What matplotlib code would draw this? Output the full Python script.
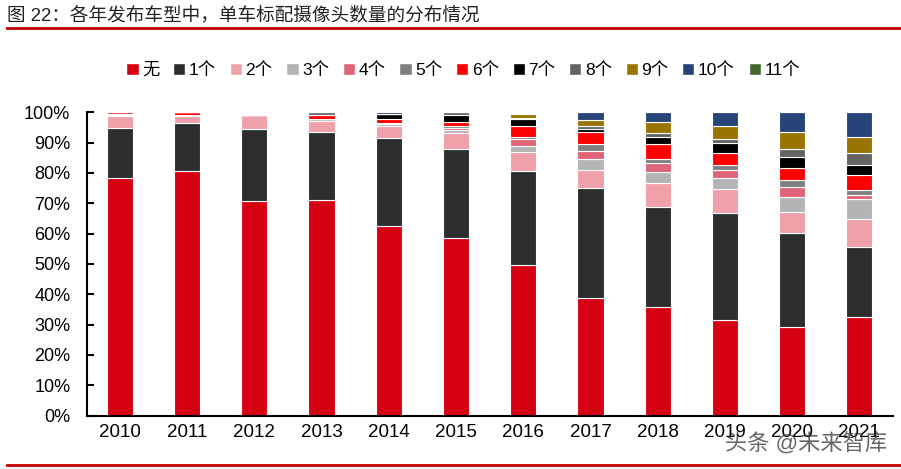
import numpy as np
import matplotlib.pyplot as plt
from matplotlib.patches import Patch

plt.rcParams['font.family'] = ['Liberation Sans', 'Noto Sans CJK SC', 'DejaVu Sans']

# 数据 (%)
years = ['2010', '2011', '2012', '2013', '2014', '2015',
         '2016', '2017', '2018', '2019', '2020', '2021']
labels = ['无', '1个', '2个', '3个', '4个', '5个', '6个', '7个', '8个', '9个', '10个', '11个']

s0 = [78.3, 80.5, 70.8, 71.0, 62.6, 58.7, 49.7, 38.7, 35.7, 31.5, 29.3, 32.4]
s1 = [16.5, 15.9, 23.7, 22.5, 28.9, 29.2, 31.0, 36.3, 33.2, 35.3, 30.8, 23.2]
s2 = [4.1, 2.5, 4.5, 3.8, 4.1, 5.2, 6.2, 5.9, 7.7, 7.8, 7.1, 9.2]
s3 = [0.3, 0.3, 0.0, 0.4, 0.7, 1.0, 2.0, 3.8, 3.6, 3.9, 5.0, 6.6]
s4 = [0.3, 0.0, 0.0, 0.0, 0.3, 0.8, 2.3, 2.6, 3.2, 2.4, 3.1, 1.3]
s5 = [0.0, 0.0, 0.0, 0.0, 0.0, 0.7, 0.8, 2.2, 1.3, 1.7, 2.3, 1.7]
s6 = [0.5, 0.8, 0.0, 1.5, 1.3, 1.3, 3.4, 4.0, 4.8, 4.0, 4.1, 4.9]
s7 = [0.0, 0.0, 0.0, 0.0, 1.5, 2.2, 2.5, 1.0, 2.3, 3.2, 3.5, 3.3]
s8 = [0.0, 0.0, 0.0, 0.8, 0.0, 0.9, 0.3, 1.1, 1.5, 1.3, 2.6, 4.0]
s9 = [0.0, 0.0, 0.0, 0.0, 0.0, 0.0, 1.2, 1.9, 3.4, 4.4, 5.7, 5.3]
s10 = [0.0, 0.0, 0.0, 0.0, 0.6, 0.0, 0.5, 2.5, 3.3, 4.5, 6.5, 8.1]
s11 = [0.0] * 12

series = [s0, s1, s2, s3, s4, s5, s6, s7, s8, s9, s10, s11]
colors = ['#d50012', '#2d2d2d', '#efa0aa', '#b4b4b4', '#e06478', '#808080',
          '#ff0000', '#000000', '#646464', '#9a7400', '#264478', '#43682b']

fig = plt.figure(figsize=(9.01, 4.69), dpi=100)
ax = fig.add_axes([0.0966, 0.114, 0.8944, 0.6465])

x = np.arange(len(years))
bottom = np.zeros(len(years))
for vals, c in zip(series, colors):
    v = np.array(vals) / 100
    ax.bar(x, v, 0.39, bottom=bottom, color=c, edgecolor='white', linewidth=0.8)
    bottom += v

ax.set_xlim(-0.49, 11.5)
ax.set_ylim(0, 1)
ax.set_yticks(np.arange(0, 1.01, 0.1))
ax.set_yticklabels([f'{i}%' for i in range(0, 101, 10)], fontsize=13)
ax.set_xticks(x)
ax.set_xticklabels(years, fontsize=13.5)
ax.tick_params(axis='x', length=0, pad=6)
ax.tick_params(axis='y', direction='in', length=5, width=1.5, pad=12)
for s in ['top', 'right']:
    ax.spines[s].set_visible(False)
ax.spines['left'].set_linewidth(1.5)
ax.spines['bottom'].set_linewidth(1.5)

# 图例
handles = [Patch(facecolor=c, edgecolor='white') for c in colors]
fig.legend(handles, labels, loc='center', bbox_to_anchor=(0.514, 1 - 70 / 469),
           ncol=12, frameon=False, fontsize=12.5, handlelength=0.7, handleheight=0.7,
           handletextpad=0.2, columnspacing=0.8)

# 标题和红线
fig.text(0.008, 1 - 15 / 469, '图 22：各年发布车型中，单车标配摄像头数量的分布情况',
         fontsize=13.4, va='center', ha='left', color='#222222')
fig.add_artist(plt.Line2D([0.008, 1.0], [1 - 28.5 / 469] * 2, color='#c00000', lw=2))
fig.add_artist(plt.Line2D([0.008, 1.0], [1 - 465 / 469] * 2, color='#c00000', lw=2))

# 水印
fig.text(0.985, 1 - 445 / 469, '头条 @未来智库', fontsize=16, ha='right', va='center',
         color='#333333', alpha=0.75)

fig.savefig('out.png', dpi=100)
